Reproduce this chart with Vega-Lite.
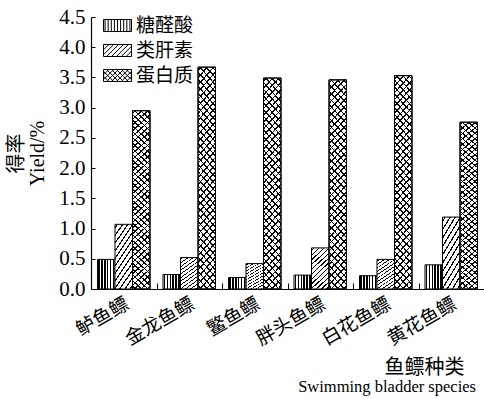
{
  "$schema": "https://vega.github.io/schema/vega-lite/v6.json",
  "autosize": {"type": "none"},
  "padding": {"left": 91, "top": 17, "right": 0, "bottom": 110},
  "width": 393,
  "height": 272,
  "background": "white",
  "title": {"text": "Swimming bladder species", "orient": "bottom", "anchor": "end", "frame": "group", "font": "Liberation Serif", "fontSize": 16.5, "fontWeight": "normal", "color": "black", "offset": 2, "dx": -8},
  "data": {"values": [
    {"species": "鲈鱼鳔", "type": "糖醛酸", "value": 0.49},
    {"species": "鲈鱼鳔", "type": "类肝素", "value": 1.07},
    {"species": "鲈鱼鳔", "type": "蛋白质", "value": 2.95},
    {"species": "金龙鱼鳔", "type": "糖醛酸", "value": 0.24},
    {"species": "金龙鱼鳔", "type": "类肝素", "value": 0.52},
    {"species": "金龙鱼鳔", "type": "蛋白质", "value": 3.67},
    {"species": "鳘鱼鳔", "type": "糖醛酸", "value": 0.19},
    {"species": "鳘鱼鳔", "type": "类肝素", "value": 0.42},
    {"species": "鳘鱼鳔", "type": "蛋白质", "value": 3.49},
    {"species": "胖头鱼鳔", "type": "糖醛酸", "value": 0.23},
    {"species": "胖头鱼鳔", "type": "类肝素", "value": 0.68},
    {"species": "胖头鱼鳔", "type": "蛋白质", "value": 3.46},
    {"species": "白花鱼鳔", "type": "糖醛酸", "value": 0.22},
    {"species": "白花鱼鳔", "type": "类肝素", "value": 0.49},
    {"species": "白花鱼鳔", "type": "蛋白质", "value": 3.53},
    {"species": "黄花鱼鳔", "type": "糖醛酸", "value": 0.40},
    {"species": "黄花鱼鳔", "type": "类肝素", "value": 1.19},
    {"species": "黄花鱼鳔", "type": "蛋白质", "value": 2.76}
  ]},
  "encoding": {
    "x": {"field": "species", "type": "nominal", "sort": ["鲈鱼鳔", "金龙鱼鳔", "鳘鱼鳔", "胖头鱼鳔", "白花鱼鳔", "黄花鱼鳔"],
      "scale": {"paddingInner": 0, "paddingOuter": 0},
      "axis": {"title": "鱼鳔种类", "tickBand": "extent", "tickSize": -6, "tickColor": "black", "domainColor": "black", "domainWidth": 1.2,
        "labelAngle": -30, "labelAlign": "right", "labelBaseline": "middle", "labelFont": "Noto Sans CJK SC", "labelFontSize": 19, "labelColor": "black", "labelPadding": 19, "labelOffset": 3,
        "titleFont": "Noto Sans CJK SC", "titleFontSize": 20, "titleFontWeight": "normal", "titleColor": "black", "titleAnchor": "end", "titleAlign": "right", "titleBaseline": "bottom", "titleX": 373, "titleY": 88}},
    "xOffset": {"field": "type", "type": "nominal", "scale": {"domain": ["糖醛酸", "类肝素", "蛋白质"], "paddingInner": 0, "paddingOuter": 0.371}},
    "y": {"field": "value", "type": "quantitative", "scale": {"domain": [0, 4.5], "nice": false},
      "axis": {"title": ["得率", "Yield/%"], "values": [0, 0.5, 1, 1.5, 2, 2.5, 3, 3.5, 4, 4.5], "format": ".1f", "grid": false,
        "tickSize": -4, "tickColor": "black", "domainColor": "black", "domainWidth": 1.2,
        "labelFont": "Liberation Serif", "labelFontSize": 21, "labelColor": "black", "labelPadding": 10,
        "titleFont": "'Liberation Serif', 'Noto Sans CJK SC'", "titleFontSize": 20, "titleFontWeight": "normal", "titleColor": "black",
        "titleAngle": -90, "titleAlign": "center", "titleBaseline": "top", "titleX": -85, "titleY": 136, "titleLineHeight": 21}}
  },
  "layer": [
    {"transform": [{"filter": "datum.type === '糖醛酸'"}],
     "mark": {"type": "bar", "stroke": "black", "strokeWidth": 1,
       "fill": {"gradient": "linear", "x1": 0, "y1": 0, "x2": 1, "y2": 0, "stops": [
         {"offset": 0, "color": "#fff"},
         {"offset": 0.04, "color": "#fff"}, {"offset": 0.04, "color": "#000"}, {"offset": 0.125, "color": "#000"}, {"offset": 0.125, "color": "#fff"},
         {"offset": 0.207, "color": "#fff"}, {"offset": 0.207, "color": "#000"}, {"offset": 0.292, "color": "#000"}, {"offset": 0.292, "color": "#fff"},
         {"offset": 0.373, "color": "#fff"}, {"offset": 0.373, "color": "#000"}, {"offset": 0.458, "color": "#000"}, {"offset": 0.458, "color": "#fff"},
         {"offset": 0.54, "color": "#fff"}, {"offset": 0.54, "color": "#000"}, {"offset": 0.625, "color": "#000"}, {"offset": 0.625, "color": "#fff"},
         {"offset": 0.707, "color": "#fff"}, {"offset": 0.707, "color": "#000"}, {"offset": 0.792, "color": "#000"}, {"offset": 0.792, "color": "#fff"},
         {"offset": 0.873, "color": "#fff"}, {"offset": 0.873, "color": "#000"}, {"offset": 0.958, "color": "#000"}, {"offset": 0.958, "color": "#fff"},
         {"offset": 1, "color": "#fff"}]}}},
    {"transform": [{"filter": "datum.type === '类肝素'"}],
     "mark": {"type": "bar", "stroke": "black", "strokeWidth": 1,
       "fill": {"gradient": "linear", "x1": 0, "y1": 0, "x2": 0.483, "y2": 1.207, "stops": [
         {"offset": 0, "color": "#fff"},
         {"offset": 0.0307, "color": "#fff"}, {"offset": 0.0307, "color": "#000"}, {"offset": 0.0527, "color": "#000"}, {"offset": 0.0527, "color": "#fff"},
         {"offset": 0.114, "color": "#fff"}, {"offset": 0.114, "color": "#000"}, {"offset": 0.136, "color": "#000"}, {"offset": 0.136, "color": "#fff"},
         {"offset": 0.1973, "color": "#fff"}, {"offset": 0.1973, "color": "#000"}, {"offset": 0.2193, "color": "#000"}, {"offset": 0.2193, "color": "#fff"},
         {"offset": 0.2807, "color": "#fff"}, {"offset": 0.2807, "color": "#000"}, {"offset": 0.3027, "color": "#000"}, {"offset": 0.3027, "color": "#fff"},
         {"offset": 0.364, "color": "#fff"}, {"offset": 0.364, "color": "#000"}, {"offset": 0.386, "color": "#000"}, {"offset": 0.386, "color": "#fff"},
         {"offset": 0.4473, "color": "#fff"}, {"offset": 0.4473, "color": "#000"}, {"offset": 0.4693, "color": "#000"}, {"offset": 0.4693, "color": "#fff"},
         {"offset": 0.5307, "color": "#fff"}, {"offset": 0.5307, "color": "#000"}, {"offset": 0.5527, "color": "#000"}, {"offset": 0.5527, "color": "#fff"},
         {"offset": 0.614, "color": "#fff"}, {"offset": 0.614, "color": "#000"}, {"offset": 0.636, "color": "#000"}, {"offset": 0.636, "color": "#fff"},
         {"offset": 0.6973, "color": "#fff"}, {"offset": 0.6973, "color": "#000"}, {"offset": 0.7193, "color": "#000"}, {"offset": 0.7193, "color": "#fff"},
         {"offset": 0.7807, "color": "#fff"}, {"offset": 0.7807, "color": "#000"}, {"offset": 0.8027, "color": "#000"}, {"offset": 0.8027, "color": "#fff"},
         {"offset": 0.864, "color": "#fff"}, {"offset": 0.864, "color": "#000"}, {"offset": 0.886, "color": "#000"}, {"offset": 0.886, "color": "#fff"},
         {"offset": 0.9473, "color": "#fff"}, {"offset": 0.9473, "color": "#000"}, {"offset": 0.9693, "color": "#000"}, {"offset": 0.9693, "color": "#fff"},
         {"offset": 1, "color": "#fff"}]}}},
    {"transform": [{"filter": "datum.type === '蛋白质'"}],
     "mark": {"type": "bar", "stroke": "black", "strokeWidth": 1,
       "fill": {"gradient": "linear", "x1": 0, "y1": 0, "x2": 0.0984, "y2": 1.082, "stops": [
         {"offset": 0, "color": "#fff"},
         {"offset": 0.0110, "color": "#fff"}, {"offset": 0.0110, "color": "#000"}, {"offset": 0.0184, "color": "#000"}, {"offset": 0.0184, "color": "#fff"},
         {"offset": 0.0404, "color": "#fff"}, {"offset": 0.0404, "color": "#000"}, {"offset": 0.0478, "color": "#000"}, {"offset": 0.0478, "color": "#fff"},
         {"offset": 0.0698, "color": "#fff"}, {"offset": 0.0698, "color": "#000"}, {"offset": 0.0772, "color": "#000"}, {"offset": 0.0772, "color": "#fff"},
         {"offset": 0.0992, "color": "#fff"}, {"offset": 0.0992, "color": "#000"}, {"offset": 0.1066, "color": "#000"}, {"offset": 0.1066, "color": "#fff"},
         {"offset": 0.1287, "color": "#fff"}, {"offset": 0.1287, "color": "#000"}, {"offset": 0.1361, "color": "#000"}, {"offset": 0.1361, "color": "#fff"},
         {"offset": 0.1581, "color": "#fff"}, {"offset": 0.1581, "color": "#000"}, {"offset": 0.1655, "color": "#000"}, {"offset": 0.1655, "color": "#fff"},
         {"offset": 0.1875, "color": "#fff"}, {"offset": 0.1875, "color": "#000"}, {"offset": 0.1949, "color": "#000"}, {"offset": 0.1949, "color": "#fff"},
         {"offset": 0.2169, "color": "#fff"}, {"offset": 0.2169, "color": "#000"}, {"offset": 0.2243, "color": "#000"}, {"offset": 0.2243, "color": "#fff"},
         {"offset": 0.2463, "color": "#fff"}, {"offset": 0.2463, "color": "#000"}, {"offset": 0.2537, "color": "#000"}, {"offset": 0.2537, "color": "#fff"},
         {"offset": 0.2757, "color": "#fff"}, {"offset": 0.2757, "color": "#000"}, {"offset": 0.2831, "color": "#000"}, {"offset": 0.2831, "color": "#fff"},
         {"offset": 0.3051, "color": "#fff"}, {"offset": 0.3051, "color": "#000"}, {"offset": 0.3125, "color": "#000"}, {"offset": 0.3125, "color": "#fff"},
         {"offset": 0.3345, "color": "#fff"}, {"offset": 0.3345, "color": "#000"}, {"offset": 0.3419, "color": "#000"}, {"offset": 0.3419, "color": "#fff"},
         {"offset": 0.3639, "color": "#fff"}, {"offset": 0.3639, "color": "#000"}, {"offset": 0.3713, "color": "#000"}, {"offset": 0.3713, "color": "#fff"},
         {"offset": 0.3934, "color": "#fff"}, {"offset": 0.3934, "color": "#000"}, {"offset": 0.4008, "color": "#000"}, {"offset": 0.4008, "color": "#fff"},
         {"offset": 0.4228, "color": "#fff"}, {"offset": 0.4228, "color": "#000"}, {"offset": 0.4302, "color": "#000"}, {"offset": 0.4302, "color": "#fff"},
         {"offset": 0.4522, "color": "#fff"}, {"offset": 0.4522, "color": "#000"}, {"offset": 0.4596, "color": "#000"}, {"offset": 0.4596, "color": "#fff"},
         {"offset": 0.4816, "color": "#fff"}, {"offset": 0.4816, "color": "#000"}, {"offset": 0.4890, "color": "#000"}, {"offset": 0.4890, "color": "#fff"},
         {"offset": 0.5110, "color": "#fff"}, {"offset": 0.5110, "color": "#000"}, {"offset": 0.5184, "color": "#000"}, {"offset": 0.5184, "color": "#fff"},
         {"offset": 0.5404, "color": "#fff"}, {"offset": 0.5404, "color": "#000"}, {"offset": 0.5478, "color": "#000"}, {"offset": 0.5478, "color": "#fff"},
         {"offset": 0.5698, "color": "#fff"}, {"offset": 0.5698, "color": "#000"}, {"offset": 0.5772, "color": "#000"}, {"offset": 0.5772, "color": "#fff"},
         {"offset": 0.5992, "color": "#fff"}, {"offset": 0.5992, "color": "#000"}, {"offset": 0.6066, "color": "#000"}, {"offset": 0.6066, "color": "#fff"},
         {"offset": 0.6287, "color": "#fff"}, {"offset": 0.6287, "color": "#000"}, {"offset": 0.6361, "color": "#000"}, {"offset": 0.6361, "color": "#fff"},
         {"offset": 0.6581, "color": "#fff"}, {"offset": 0.6581, "color": "#000"}, {"offset": 0.6655, "color": "#000"}, {"offset": 0.6655, "color": "#fff"},
         {"offset": 0.6875, "color": "#fff"}, {"offset": 0.6875, "color": "#000"}, {"offset": 0.6949, "color": "#000"}, {"offset": 0.6949, "color": "#fff"},
         {"offset": 0.7169, "color": "#fff"}, {"offset": 0.7169, "color": "#000"}, {"offset": 0.7243, "color": "#000"}, {"offset": 0.7243, "color": "#fff"},
         {"offset": 0.7463, "color": "#fff"}, {"offset": 0.7463, "color": "#000"}, {"offset": 0.7537, "color": "#000"}, {"offset": 0.7537, "color": "#fff"},
         {"offset": 0.7757, "color": "#fff"}, {"offset": 0.7757, "color": "#000"}, {"offset": 0.7831, "color": "#000"}, {"offset": 0.7831, "color": "#fff"},
         {"offset": 0.8051, "color": "#fff"}, {"offset": 0.8051, "color": "#000"}, {"offset": 0.8125, "color": "#000"}, {"offset": 0.8125, "color": "#fff"},
         {"offset": 0.8345, "color": "#fff"}, {"offset": 0.8345, "color": "#000"}, {"offset": 0.8419, "color": "#000"}, {"offset": 0.8419, "color": "#fff"},
         {"offset": 0.8639, "color": "#fff"}, {"offset": 0.8639, "color": "#000"}, {"offset": 0.8713, "color": "#000"}, {"offset": 0.8713, "color": "#fff"},
         {"offset": 0.8934, "color": "#fff"}, {"offset": 0.8934, "color": "#000"}, {"offset": 0.9008, "color": "#000"}, {"offset": 0.9008, "color": "#fff"},
         {"offset": 0.9228, "color": "#fff"}, {"offset": 0.9228, "color": "#000"}, {"offset": 0.9302, "color": "#000"}, {"offset": 0.9302, "color": "#fff"},
         {"offset": 0.9522, "color": "#fff"}, {"offset": 0.9522, "color": "#000"}, {"offset": 0.9596, "color": "#000"}, {"offset": 0.9596, "color": "#fff"},
         {"offset": 0.9816, "color": "#fff"}, {"offset": 0.9816, "color": "#000"}, {"offset": 0.9890, "color": "#000"}, {"offset": 0.9890, "color": "#fff"},
         {"offset": 1, "color": "#fff"}]}}},
    {"transform": [{"filter": "datum.type === '蛋白质'"}],
     "mark": {"type": "bar", "stroke": "black", "strokeWidth": 1,
       "fill": {"gradient": "linear", "x1": 0, "y1": 1, "x2": 0.0984, "y2": -0.082, "stops": [
         {"offset": 0, "color": "rgba(0,0,0,0)"},
         {"offset": 0.0110, "color": "rgba(0,0,0,0)"}, {"offset": 0.0110, "color": "#000"}, {"offset": 0.0184, "color": "#000"}, {"offset": 0.0184, "color": "rgba(0,0,0,0)"},
         {"offset": 0.0404, "color": "rgba(0,0,0,0)"}, {"offset": 0.0404, "color": "#000"}, {"offset": 0.0478, "color": "#000"}, {"offset": 0.0478, "color": "rgba(0,0,0,0)"},
         {"offset": 0.0698, "color": "rgba(0,0,0,0)"}, {"offset": 0.0698, "color": "#000"}, {"offset": 0.0772, "color": "#000"}, {"offset": 0.0772, "color": "rgba(0,0,0,0)"},
         {"offset": 0.0992, "color": "rgba(0,0,0,0)"}, {"offset": 0.0992, "color": "#000"}, {"offset": 0.1066, "color": "#000"}, {"offset": 0.1066, "color": "rgba(0,0,0,0)"},
         {"offset": 0.1287, "color": "rgba(0,0,0,0)"}, {"offset": 0.1287, "color": "#000"}, {"offset": 0.1361, "color": "#000"}, {"offset": 0.1361, "color": "rgba(0,0,0,0)"},
         {"offset": 0.1581, "color": "rgba(0,0,0,0)"}, {"offset": 0.1581, "color": "#000"}, {"offset": 0.1655, "color": "#000"}, {"offset": 0.1655, "color": "rgba(0,0,0,0)"},
         {"offset": 0.1875, "color": "rgba(0,0,0,0)"}, {"offset": 0.1875, "color": "#000"}, {"offset": 0.1949, "color": "#000"}, {"offset": 0.1949, "color": "rgba(0,0,0,0)"},
         {"offset": 0.2169, "color": "rgba(0,0,0,0)"}, {"offset": 0.2169, "color": "#000"}, {"offset": 0.2243, "color": "#000"}, {"offset": 0.2243, "color": "rgba(0,0,0,0)"},
         {"offset": 0.2463, "color": "rgba(0,0,0,0)"}, {"offset": 0.2463, "color": "#000"}, {"offset": 0.2537, "color": "#000"}, {"offset": 0.2537, "color": "rgba(0,0,0,0)"},
         {"offset": 0.2757, "color": "rgba(0,0,0,0)"}, {"offset": 0.2757, "color": "#000"}, {"offset": 0.2831, "color": "#000"}, {"offset": 0.2831, "color": "rgba(0,0,0,0)"},
         {"offset": 0.3051, "color": "rgba(0,0,0,0)"}, {"offset": 0.3051, "color": "#000"}, {"offset": 0.3125, "color": "#000"}, {"offset": 0.3125, "color": "rgba(0,0,0,0)"},
         {"offset": 0.3345, "color": "rgba(0,0,0,0)"}, {"offset": 0.3345, "color": "#000"}, {"offset": 0.3419, "color": "#000"}, {"offset": 0.3419, "color": "rgba(0,0,0,0)"},
         {"offset": 0.3639, "color": "rgba(0,0,0,0)"}, {"offset": 0.3639, "color": "#000"}, {"offset": 0.3713, "color": "#000"}, {"offset": 0.3713, "color": "rgba(0,0,0,0)"},
         {"offset": 0.3934, "color": "rgba(0,0,0,0)"}, {"offset": 0.3934, "color": "#000"}, {"offset": 0.4008, "color": "#000"}, {"offset": 0.4008, "color": "rgba(0,0,0,0)"},
         {"offset": 0.4228, "color": "rgba(0,0,0,0)"}, {"offset": 0.4228, "color": "#000"}, {"offset": 0.4302, "color": "#000"}, {"offset": 0.4302, "color": "rgba(0,0,0,0)"},
         {"offset": 0.4522, "color": "rgba(0,0,0,0)"}, {"offset": 0.4522, "color": "#000"}, {"offset": 0.4596, "color": "#000"}, {"offset": 0.4596, "color": "rgba(0,0,0,0)"},
         {"offset": 0.4816, "color": "rgba(0,0,0,0)"}, {"offset": 0.4816, "color": "#000"}, {"offset": 0.4890, "color": "#000"}, {"offset": 0.4890, "color": "rgba(0,0,0,0)"},
         {"offset": 0.5110, "color": "rgba(0,0,0,0)"}, {"offset": 0.5110, "color": "#000"}, {"offset": 0.5184, "color": "#000"}, {"offset": 0.5184, "color": "rgba(0,0,0,0)"},
         {"offset": 0.5404, "color": "rgba(0,0,0,0)"}, {"offset": 0.5404, "color": "#000"}, {"offset": 0.5478, "color": "#000"}, {"offset": 0.5478, "color": "rgba(0,0,0,0)"},
         {"offset": 0.5698, "color": "rgba(0,0,0,0)"}, {"offset": 0.5698, "color": "#000"}, {"offset": 0.5772, "color": "#000"}, {"offset": 0.5772, "color": "rgba(0,0,0,0)"},
         {"offset": 0.5992, "color": "rgba(0,0,0,0)"}, {"offset": 0.5992, "color": "#000"}, {"offset": 0.6066, "color": "#000"}, {"offset": 0.6066, "color": "rgba(0,0,0,0)"},
         {"offset": 0.6287, "color": "rgba(0,0,0,0)"}, {"offset": 0.6287, "color": "#000"}, {"offset": 0.6361, "color": "#000"}, {"offset": 0.6361, "color": "rgba(0,0,0,0)"},
         {"offset": 0.6581, "color": "rgba(0,0,0,0)"}, {"offset": 0.6581, "color": "#000"}, {"offset": 0.6655, "color": "#000"}, {"offset": 0.6655, "color": "rgba(0,0,0,0)"},
         {"offset": 0.6875, "color": "rgba(0,0,0,0)"}, {"offset": 0.6875, "color": "#000"}, {"offset": 0.6949, "color": "#000"}, {"offset": 0.6949, "color": "rgba(0,0,0,0)"},
         {"offset": 0.7169, "color": "rgba(0,0,0,0)"}, {"offset": 0.7169, "color": "#000"}, {"offset": 0.7243, "color": "#000"}, {"offset": 0.7243, "color": "rgba(0,0,0,0)"},
         {"offset": 0.7463, "color": "rgba(0,0,0,0)"}, {"offset": 0.7463, "color": "#000"}, {"offset": 0.7537, "color": "#000"}, {"offset": 0.7537, "color": "rgba(0,0,0,0)"},
         {"offset": 0.7757, "color": "rgba(0,0,0,0)"}, {"offset": 0.7757, "color": "#000"}, {"offset": 0.7831, "color": "#000"}, {"offset": 0.7831, "color": "rgba(0,0,0,0)"},
         {"offset": 0.8051, "color": "rgba(0,0,0,0)"}, {"offset": 0.8051, "color": "#000"}, {"offset": 0.8125, "color": "#000"}, {"offset": 0.8125, "color": "rgba(0,0,0,0)"},
         {"offset": 0.8345, "color": "rgba(0,0,0,0)"}, {"offset": 0.8345, "color": "#000"}, {"offset": 0.8419, "color": "#000"}, {"offset": 0.8419, "color": "rgba(0,0,0,0)"},
         {"offset": 0.8639, "color": "rgba(0,0,0,0)"}, {"offset": 0.8639, "color": "#000"}, {"offset": 0.8713, "color": "#000"}, {"offset": 0.8713, "color": "rgba(0,0,0,0)"},
         {"offset": 0.8934, "color": "rgba(0,0,0,0)"}, {"offset": 0.8934, "color": "#000"}, {"offset": 0.9008, "color": "#000"}, {"offset": 0.9008, "color": "rgba(0,0,0,0)"},
         {"offset": 0.9228, "color": "rgba(0,0,0,0)"}, {"offset": 0.9228, "color": "#000"}, {"offset": 0.9302, "color": "#000"}, {"offset": 0.9302, "color": "rgba(0,0,0,0)"},
         {"offset": 0.9522, "color": "rgba(0,0,0,0)"}, {"offset": 0.9522, "color": "#000"}, {"offset": 0.9596, "color": "#000"}, {"offset": 0.9596, "color": "rgba(0,0,0,0)"},
         {"offset": 0.9816, "color": "rgba(0,0,0,0)"}, {"offset": 0.9816, "color": "#000"}, {"offset": 0.9890, "color": "#000"}, {"offset": 0.9890, "color": "rgba(0,0,0,0)"},
         {"offset": 1, "color": "rgba(0,0,0,0)"}]}}},
    {"mark": {"type": "point", "filled": false, "stroke": "black", "strokeWidth": 1, "opacity": 0},
     "encoding": {
       "shape": {"field": "type", "type": "nominal",
         "scale": {"domain": ["糖醛酸", "类肝素", "蛋白质"], "range": [
           "M-1,-0.43H1V0.43H-1Z M-0.889,-0.43V0.43 M-0.667,-0.43V0.43 M-0.444,-0.43V0.43 M-0.222,-0.43V0.43 M0,-0.43V0.43 M0.222,-0.43V0.43 M0.444,-0.43V0.43 M0.667,-0.43V0.43 M0.889,-0.43V0.43",
           "M-1,-0.43H1V0.43H-1Z M-1,-0.05L-0.62,-0.43 M-1,0.3L-0.27,-0.43 M-0.78,0.43L0.08,-0.43 M-0.43,0.43L0.43,-0.43 M-0.08,0.43L0.78,-0.43 M0.27,0.43L1,-0.3 M0.62,0.43L1,0.05",
           "M-1,-0.43H1V0.43H-1Z M-1,-0.05L-0.62,-0.43 M-1,0.3L-0.27,-0.43 M-0.78,0.43L0.08,-0.43 M-0.43,0.43L0.43,-0.43 M-0.08,0.43L0.78,-0.43 M0.27,0.43L1,-0.3 M0.62,0.43L1,0.05 M1,-0.05L0.62,-0.43 M1,0.3L0.27,-0.43 M0.78,0.43L-0.08,-0.43 M0.43,0.43L-0.43,-0.43 M0.08,0.43L-0.78,-0.43 M-0.27,0.43L-1,-0.3 M-0.62,0.43L-1,0.05"]},
         "legend": {"title": null, "orient": "none", "legendX": 12, "legendY": -6, "padding": 0,
           "symbolSize": 784, "symbolStrokeWidth": 1, "symbolStrokeColor": "black", "symbolFillColor": "white", "symbolOpacity": 1,
           "labelFont": "Noto Sans CJK SC", "labelFontSize": 19, "labelColor": "black", "labelOffset": 4, "rowPadding": -4}}
     }}
  ],
  "config": {"view": {"stroke": null}}
}
